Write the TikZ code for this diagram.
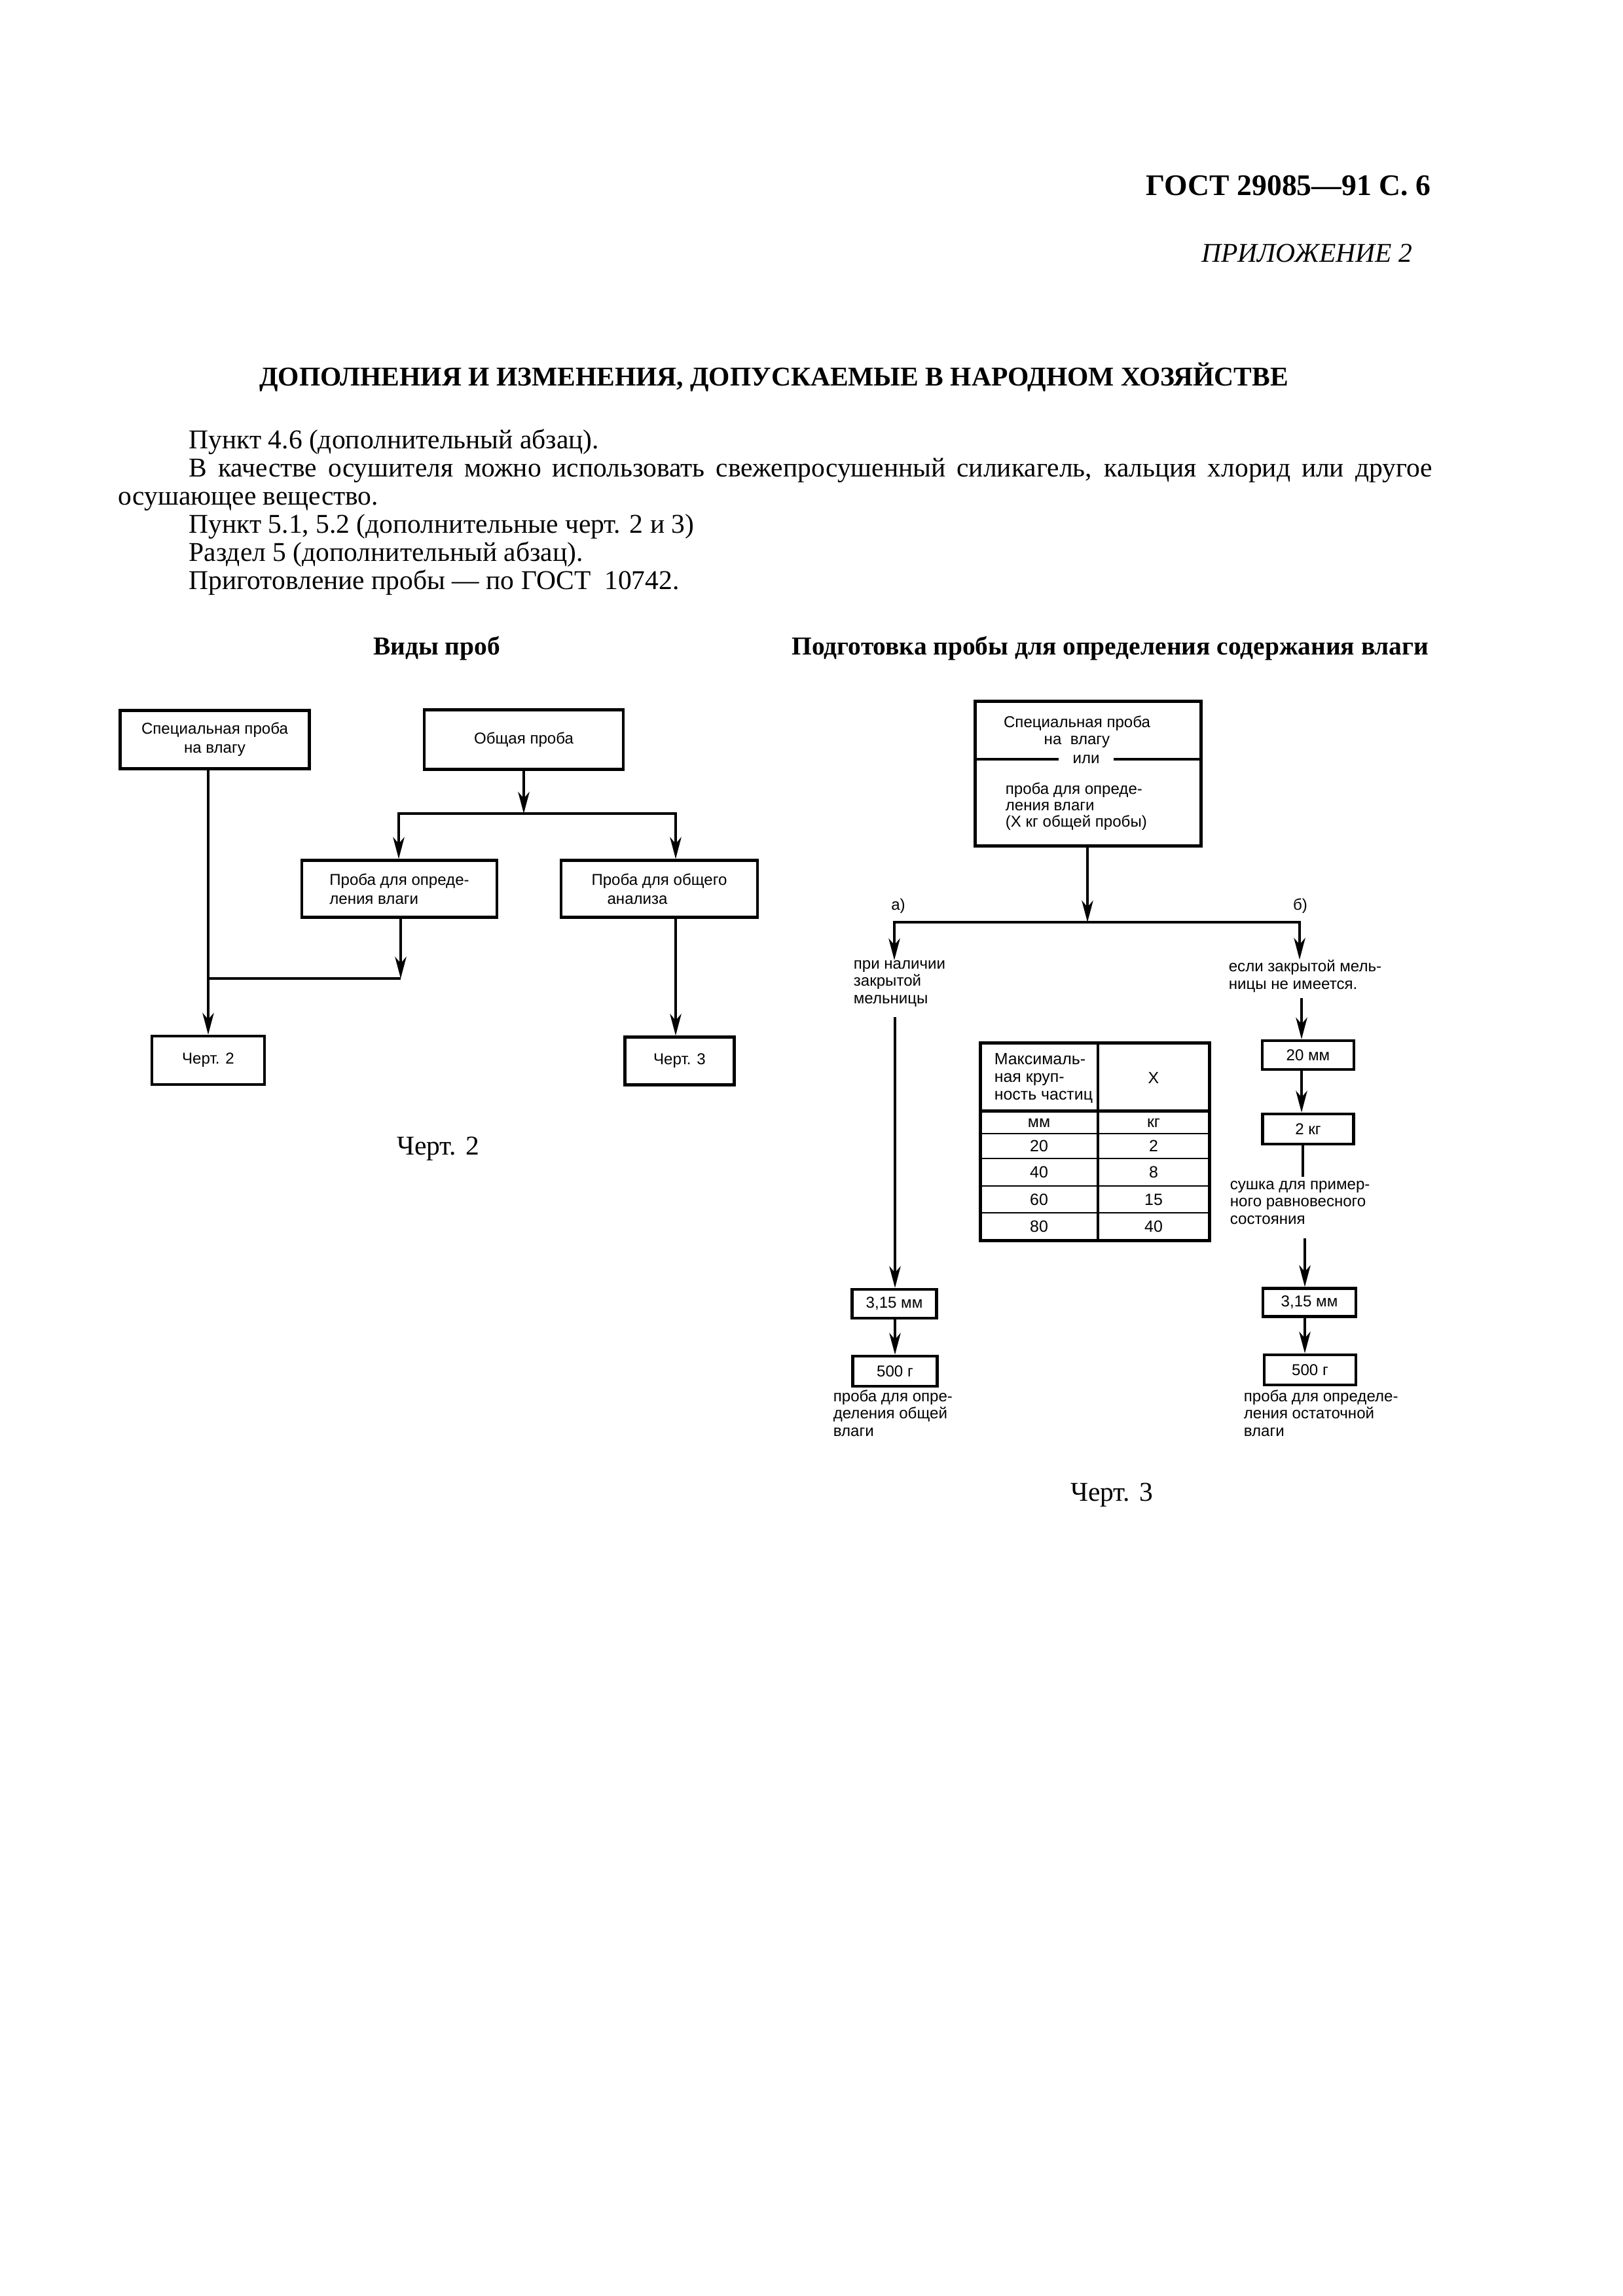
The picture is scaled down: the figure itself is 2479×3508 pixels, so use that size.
\documentclass[tikz,border=0pt]{standalone}
\usepackage{fontspec}
\setmainfont{Liberation Serif}
\newfontfamily\diagfont{Liberation Sans}
\usepackage{tikz}
\usetikzlibrary{calc}
\usetikzlibrary{positioning}
\usetikzlibrary{arrows.meta}
\newdimen\pxu
\pxu=0.2409pt
\tikzset{>={Stealth[length=8pt,width=4.2pt,inset=2.4pt]}}
\tikzset{txt/.style={inner sep=0pt}}
\tikzset{sz/.style 2 args={minimum width=#1*0.2409pt, minimum height=#2*0.2409pt}}
\tikzset{box/.style={draw=black, line width=1.1pt, inner sep=0pt, align=center, font=\diagfont\fontsize{5.8}{7}\selectfont}}
\tikzset{dtxt/.style={inner sep=0pt, align=left, anchor=base west, font=\diagfont\fontsize{5.8}{6.3}\selectfont}}
\tikzset{cell/.style={inner sep=0pt, font=\diagfont\fontsize{6}{6.4}\selectfont}}
\tikzset{conn/.style={line width=0.8pt}}

\begin{document}
\begin{tikzpicture}[x=0.2409pt, y=-0.2409pt]
		\fill[white] (0,0) rectangle (2479,3508);
		\useasboundingbox (0,0) rectangle (2479,3508);
		\node[txt, anchor=base east, font=\bfseries\fontsize{11}{13}\selectfont] (H) at (2186,298) {ГОСТ 29085—91 С. 6};
		\node[txt, anchor=base east, font=\itshape\fontsize{10}{12}\selectfont] (P) at (2158,400) {ПРИЛОЖЕНИЕ 2};
		\node[txt, anchor=base, font=\bfseries\fontsize{10}{12}\selectfont] (T) at (1182,589) {ДОПОЛНЕНИЯ И ИЗМЕНЕНИЯ, ДОПУСКАЕМЫЕ В НАРОДНОМ ХОЗЯЙСТВЕ};
		\node[txt, anchor=base west] (p1) at (288,685) {Пункт 4.6 (дополнительный абзац).};
		\node[txt, anchor=base west] (p2) at (288,728) {\makebox[1899\pxu][s]{В качестве осушителя можно использовать свежепросушенный силикагель, кальция хлорид или другое}};
		\node[txt, anchor=base west] (p3) at (180,771) {осушающее вещество.};
		\node[txt, anchor=base west] (p4) at (288,814) {Пункт 5.1, 5.2 (дополнительные черт. 2 и 3)};
		\node[txt, anchor=base west] (p5) at (288,857) {Раздел 5 (дополнительный абзац).};
		\node[txt, anchor=base west] (p6) at (288,900) {Приготовление пробы — по ГОСТ\ \ 10742.};

		\node[txt, anchor=base, font=\bfseries\fontsize{9.5}{12}\selectfont] (V) at (667,1000) {Виды проб};
		\node[box, sz={289}{89}] (S) at (328,1130) {Специальная проба\\на влагу};
		\node[box, sz={304}{91}] (G) at (800,1130) {Общая проба};
		\node[box, sz={298}{87}, align=left] (M) at (610,1358) {Проба для опреде-\\ления влаги};
		\node[box, sz={300}{87}, align=left] (N) at (1007,1358) {Проба для общего\\\hspace*{1em}анализа};
		\node[box, sz={172}{74}] (C2) at (318,1620) {Черт. 2};
		\node[box, sz={167}{73}] (C3) at (1038,1621) {Черт. 3};
		\coordinate (g1) at (800,1243);
		\coordinate (gl) at (609,1243);
		\coordinate (gr) at (1032,1243);
		\coordinate (j1) at (612,1495);
		\path [->, conn] (G.south) edge (g1);
		\draw [->, conn] (g1) -- (gl) -- (gl |- M.north);
		\draw [->, conn] (g1) -- (gr) -- (gr |- N.north);
		\draw [->, conn] (S.south -| C2.north) -- (C2.north);
		\draw [->, conn] (M.south -| j1) -- (j1);
		\draw [conn] (j1) -- (j1 -| C2.north);
		\draw [->, conn] (gr |- N.south) -- (gr |- C3.north);
		\node[txt, anchor=base] (c2) at (669,1764) {Черт. 2};

		\node[txt, anchor=base, font=\bfseries\fontsize{9.5}{12}\selectfont] (W) at (1696,1000) {Подготовка пробы для определения содержания влаги};
		\node[box, sz={345}{221}] (R) at (1662,1182) {};
		\node[txt, align=center, font=\diagfont\fontsize{5.8}{6.4}\selectfont] (Ra) at (1645,1118) {Специальная проба\\на\ \ влагу};
		\node[inner xsep=21\pxu, inner ysep=0pt, font=\diagfont\fontsize{5.8}{6.4}\selectfont] (or) at (1659,1160) {или};
		\draw [line width=1.1pt] (R.west |- or) -- (or.west);
		\draw [line width=1.1pt] (or.east) -- (R.east |- or);
		\node[dtxt, font=\diagfont\fontsize{5.8}{6}\selectfont] (Rb) at (1535,1263) {проба для опреде-\\ления влаги\\(X кг общей пробы)};
		\coordinate (s2) at (1661,1409);
		\coordinate (sa) at (1366,1409);
		\coordinate (sb) at (1985,1409);
		\node[txt, font=\diagfont\fontsize{5.8}{7}\selectfont] (la) at (1372,1384) {а)};
		\node[txt, font=\diagfont\fontsize{5.8}{7}\selectfont] (lb) at (1986,1384) {б)};
		\node[dtxt] (A) at (1303,1533) {при наличии\\закрытой\\мельницы};
		\node[dtxt] (B) at (1876,1511) {если закрытой мель-\\ницы не имеется.};
		\path [->, conn] (R.south -| s2) edge (s2);
		\draw [->, conn] (s2) -- (sa) -- (sa |- A.north);
		\draw [->, conn] (s2) -- (sb) -- (sb |- B.north);

		\coordinate (ma) at (1367,1554);
		\node[box, sz={129}{44}] (L1) at (1366,1992) {3,15 мм};
		\node[box, sz={129}{46}] (L2) at (1367,2095) {500 г};
		\draw [->, conn] (ma) -- (ma |- L1.north);
		\draw [->, conn] (L1.south -| ma) -- (L2.north -| ma);
		\node[dtxt] (Lt) at (1272,2194) {проба для опре-\\деления общей\\влаги};

		\coordinate (mb) at (1988,1525);
		\node[box, sz={140}{44}] (K1) at (1998,1612) {20 мм};
		\node[box, sz={139}{46}] (K2) at (1998,1725) {2 кг};
		\draw [->, conn] (mb) -- (mb |- K1.north);
		\draw [->, conn] (K1.south -| mb) -- (K2.north -| mb);
		\coordinate (da) at (1990,1798);
		\draw [conn] (K2.south -| da) -- (da);
		\node[dtxt] (D) at (1878,1870) {сушка для пример-\\ного равновесного\\состояния};
		\coordinate (db) at (1993,1892);
		\node[box, sz={142}{43}] (K3) at (2000,1990) {3,15 мм};
		\node[box, sz={140}{46}] (K4) at (2001,2093) {500 г};
		\draw [->, conn] (db) -- (db |- K3.north);
		\draw [->, conn] (K3.south -| db) -- (K4.north -| db);
		\node[dtxt] (Kt) at (1899,2194) {проба для определе-\\ления остаточной\\влаги};

		\draw [line width=1.2pt] (1497,1593) rectangle (1847,1895);
		\draw [line width=1.1pt] (1677,1593) -- (1677,1895);
		\draw [line width=1.2pt] (1497,1697) -- (1847,1697);
		\foreach \yy in {1732,1770,1812,1853}
			\draw [line width=0.7pt] (1497,\yy) -- (1847,\yy);
		\node[cell, align=left, anchor=base west] (X0) at (1518,1680) {Максималь-\\ная круп-\\ность частиц};
		\node[cell] (X1) at (1762,1647) {X};
		\node[cell] (U1) at (1587,1716) {мм};
		\node[cell] (U2) at (1762,1716) {кг};
		\foreach \mm/\kg/\yy in {20/2/1751, 40/8/1791, 60/15/1833, 80/40/1874} {
			\node[cell] (mm\mm) at (1587,\yy) {\mm};
			\node[cell] (kg\mm) at (1762,\yy) {\kg};
		}
		\node[txt, anchor=base] (c3) at (1698,2293) {Черт. 3};
\end{tikzpicture}
\end{document}
